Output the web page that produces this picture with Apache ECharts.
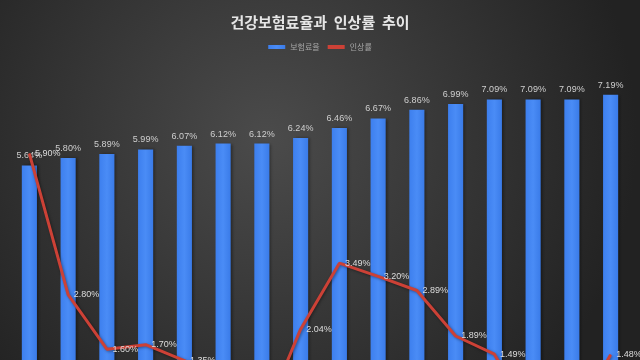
<!DOCTYPE html>
<html>
<head>
<meta charset="utf-8">
<script src="https://cdn.jsdelivr.net/npm/echarts@6/dist/echarts.min.js"></script>
<style>
html,body{margin:0;padding:0;overflow:hidden;background:#232323;}
#c{width:640px;height:460px;}
</style>
</head>
<body>
<div id="c"></div>
<script>
const years = ['2011','2012','2013','2014','2015','2016','2017','2018','2019','2020','2021','2022','2023','2024','2025','2026'];
const premiumRate = [5.64, 5.80, 5.89, 5.99, 6.07, 6.12, 6.12, 6.24, 6.46, 6.67, 6.86, 6.99, 7.09, 7.09, 7.09, 7.19];
const increaseRate = [5.90, 2.80, 1.60, 1.70, 1.35, 0.90, 0.00, 2.04, 3.49, 3.20, 2.89, 1.89, 1.49, 0.00, 0.00, 1.48];
const yTicks = [0, 1, 2, 3, 4, 5, 6, 7, 8];

const font = '"Liberation Sans", "Noto Sans CJK KR", sans-serif';
const chart = echarts.init(document.getElementById('c'), null, {renderer: 'canvas'});
chart.setOption({
  backgroundColor: {
    type: 'radial', x: 0.42, y: 0.3, r: 0.8,
    colorStops: [{offset: 0, color: '#4b4b4b'}, {offset: 1, color: '#222222'}]
  },
  textStyle: {fontFamily: font},
  title: {
    text: '건강보험료율과  인상률  추이',
    left: 'center', top: 10,
    textStyle: {color: '#e6e6e6', fontSize: 15, fontWeight: 'bold', fontFamily: '"Noto Sans CJK KR", sans-serif'}
  },
  legend: {
    top: 38, left: 'center',
    itemWidth: 17, itemHeight: 4, itemGap: 8,
    textStyle: {color: '#a8a8a8', fontSize: 8, fontFamily: '"Noto Sans CJK KR", sans-serif'},
    data: [{name: '보험료율', icon: 'rect'}, {name: '인상률', icon: 'rect'}]
  },
  grid: {left: 10, right: 10, top: 58, bottom: 38, containLabel: false},
  xAxis: {
    type: 'category', data: years,
    axisLine: {show: false}, axisTick: {show: false},
    axisLabel: {color: '#aaa', fontSize: 9}
  },
  yAxis: {
    type: 'value', min: yTicks[0], max: yTicks[yTicks.length - 1], interval: 1,
    show: false, splitLine: {show: false}
  },
  series: [
    {
      name: '보험료율', type: 'bar', data: premiumRate, barWidth: '39%',
      itemStyle: {
        color: {type: 'linear', x: 0, y: 0, x2: 1, y2: 0,
          colorStops: [{offset: 0, color: '#3d7fee'}, {offset: 0.5, color: '#4a8cf6'}, {offset: 1, color: '#3a7be8'}]},
        shadowColor: 'rgba(0,0,0,0.4)', shadowOffsetX: 2, shadowBlur: 3
      },
      label: {show: true, position: 'top', distance: 5, color: '#cfcfcf', fontSize: 9,
        formatter: p => p.value.toFixed(2) + '%'},
      z: 2
    },
    {
      name: '인상률', type: 'line', data: increaseRate, symbol: 'circle', symbolSize: 1, showSymbol: true,
      lineStyle: {color: '#cc4136', width: 3, shadowColor: 'rgba(0,0,0,0.4)', shadowBlur: 3, shadowOffsetX: 1, shadowOffsetY: 1},
      itemStyle: {color: '#cc4136'},
      label: {show: true, position: 'right', distance: 5, color: '#dcdcdc', fontSize: 9,
        formatter: p => p.value.toFixed(2) + '%'},
      labelLayout: {hideOverlap: false},
      z: 3
    }
  ]
});
</script>
</body>
</html>
